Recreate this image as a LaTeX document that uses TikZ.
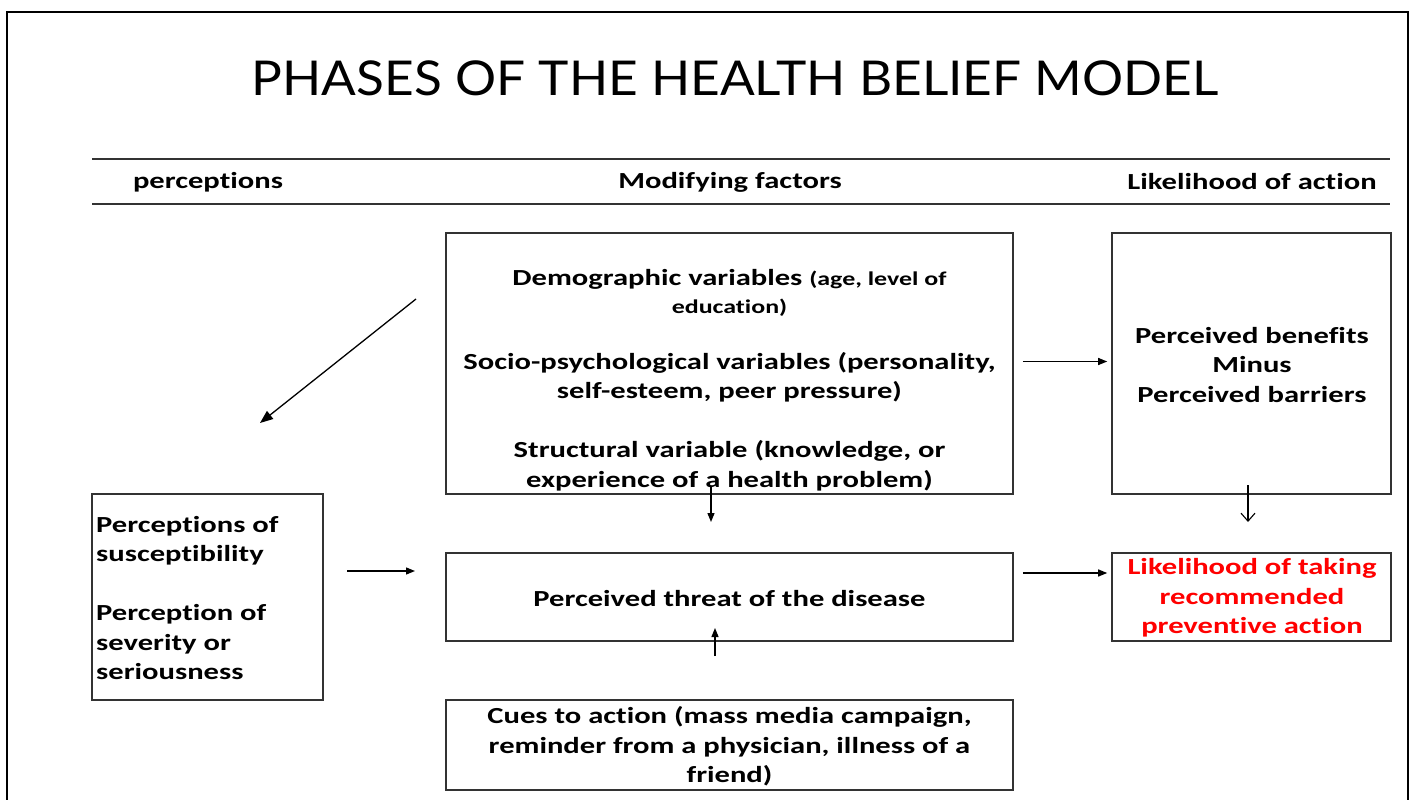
\documentclass[tikz,border=0pt]{standalone}
\usepackage{fontspec}
\setmainfont{Carlito}
\newfontfamily\bodyfont[FakeStretch=1.33,Ligatures=NoCommon]{Carlito}
\newfontfamily\titlefont[FakeStretch=1.07]{Lato}
\usetikzlibrary{arrows.meta,calc}
\definecolor{boxline}{HTML}{333333}
\tikzset{
  box/.style={draw=boxline,line width=1.6pt,minimum width=#1,inner sep=0pt},
  txt/.style={font=\bodyfont\bfseries\fontsize{23}{29.5}\selectfont,align=center,inner sep=0pt},
  hdr/.style={font=\bodyfont\bfseries\fontsize{23}{26}\selectfont,inner sep=0pt},
  conn/.style={line width=1.3pt,-{Triangle[length=9pt,width=7pt]}},
  openconn/.style={line width=1.1pt,-{Straight Barb[length=8pt,width=14pt]}},
  rule/.style={line width=1.3pt,draw=boxline}
}
\begin{document}
\begin{tikzpicture}[x=1pt,y=-1pt]
\useasboundingbox (0,0) rectangle (1414,800);
% outer frame
\draw[line width=2pt] (7,805) -- (7,12) -- (1408,12) -- (1408,805);
% title
\node[font=\titlefont\fontsize{48}{56}\selectfont,inner sep=0pt] (title) at (735,78) {PHASES OF THE HEALTH BELIEF MODEL};
% header rules
\draw[rule] (92,159) -- (1390,159);
\draw[rule] (92,204) -- (1390,204);
\node[hdr] (h1) at (208,182) {perceptions};
\node[hdr] (h2) at (730,182) {Modifying factors};
\node[hdr] (h3) at (1252,182) {Likelihood of action};
% boxes
\node[box=567pt,minimum height=261pt] (mod) at (729.5,363.5) {};
\node[box=279pt,minimum height=261pt] (ben) at (1251.5,363.5) {};
\node[box=231pt,minimum height=206pt] (perc) at (207.5,597) {};
\node[box=567pt,minimum height=88pt] (threat) at (729.5,597) {};
\node[box=279pt,minimum height=88pt] (like) at (1251.5,597) {};
\node[box=567pt,minimum height=90pt] (cues) at (729.5,745) {};
% texts
\node[txt] (t1) at (729.5,293) {Demographic variables {\fontsize{19.5}{26}\selectfont(age, level of}\\[-2pt]{\fontsize{19.5}{26}\selectfont education)}};
\node[txt] (t2) at (729.5,377.5) {Socio-psychological variables (personality,\\self-esteem, peer pressure)};
\node[txt] (t3) at (729.5,466) {Structural variable (knowledge, or\\experience of a health problem)};
\node[txt] (t4) at (1252,365) {Perceived benefits\\Minus\\Perceived barriers};
\node[txt,align=left,anchor=west] (t5) at (96,598) {Perceptions of\\susceptibility\\[29.5pt]Perception of\\severity or\\seriousness};
\node[txt] (t6) at (729.5,599) {Perceived threat of the disease};
\node[txt,text=red] (t7) at (1252,598) {Likelihood of taking\\recommended\\preventive action};
\node[txt] (t8) at (729.5,746.5) {Cues to action (mass media campaign,\\reminder from a physician, illness of a\\friend)};
% connectors
\coordinate (d1) at (416,299);
\coordinate (d2) at (260,423);
\draw[line width=1.3pt,-{Triangle[length=13pt,width=10pt]}] (d1) -- (d2);
\coordinate (p1) at (347,571);
\coordinate (p2) at (415,571);
\draw[conn] (p1) -- (p2);
\draw[conn] ($(mod.east)+(9,-2)$) -- ($(ben.west)+(-4,-2)$);
\coordinate (m1) at (711,487);
\coordinate (m2) at (711,522);
\draw[conn] (m1) -- (m2);
\coordinate (c1) at (715,656);
\coordinate (c2) at (715,628);
\draw[conn] (c1) -- (c2);
\draw[conn] ($(threat.east)+(9,-24)$) -- ($(like.west)+(-4,-24)$);
\coordinate (b1) at (1248,485);
\coordinate (b2) at (1248,522);
\draw[openconn] (b1) -- (b2);
\end{tikzpicture}
\end{document}
